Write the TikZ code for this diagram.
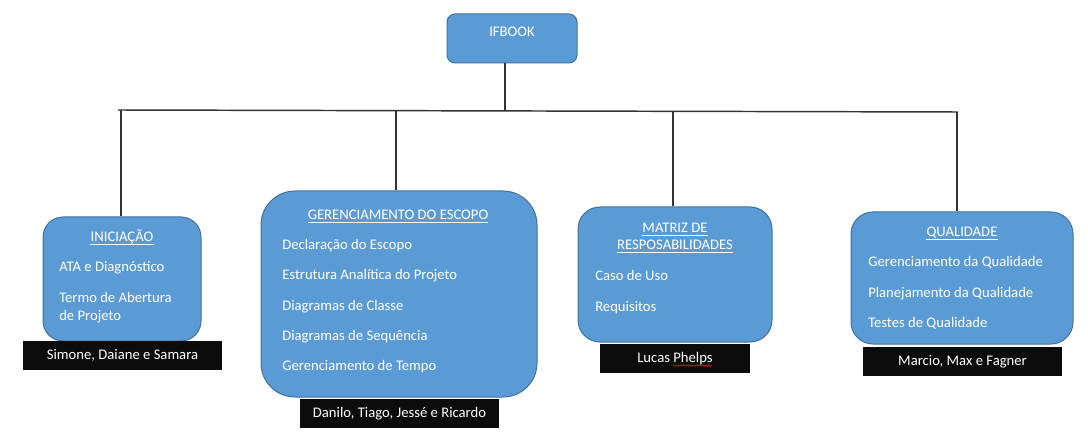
\documentclass[tikz,border=0pt]{standalone}
\usepackage{fontspec}
\setmainfont{Carlito}
\usepackage{tikz}
\usetikzlibrary{calc,decorations.pathmorphing}

\definecolor{boxblue}{RGB}{91,155,213}
\definecolor{boxedge}{RGB}{65,113,156}
\definecolor{teamblack}{RGB}{12,12,12}

\tikzset{
	wire/.style={line width=1.1pt, color=black!80},
	topicbox/.style={draw=boxedge, fill=boxblue, line width=0.75pt, inner sep=0pt},
	teambox/.style={fill=teamblack, text=white, inner sep=0pt, text height=8pt, text depth=2.5pt},
	topictitle/.style={text=white, inner sep=0pt, anchor=base},
	topicitem/.style={text=white, inner sep=0pt, anchor=base west},
	titleline/.style={draw=white, line width=0.6pt}
}

\begin{document}
\begin{tikzpicture}[x=0.75pt, y=-0.75pt, font=\fontsize{11pt}{13.2pt}\selectfont]
		%%%%% START %%%%%
		\useasboundingbox (0, 0) rectangle (1088, 438);
		
		%%%%% boxes
		\node[topicbox, rounded corners=6pt, minimum width=97.5pt, minimum height=36.75pt] (ifbook) at (512, 38.5) {};
		\node[topicbox, rounded corners=15pt, minimum width=118.5pt, minimum height=93pt] (ini) at (122, 279) {};
		\node[topicbox, rounded corners=25.5pt, minimum width=207pt, minimum height=154.5pt] (ger) at (399, 294) {};
		\node[topicbox, rounded corners=16.5pt, minimum width=145.5pt, minimum height=101.25pt] (mat) at (675, 274.5) {};
		\node[topicbox, rounded corners=16.5pt, minimum width=166.5pt, minimum height=99pt] (qual) at (962, 278) {};
		
		%%%%% tree
		\coordinate (hub) at (505, 111);
		\coordinate (bar-w) at (118, 110);
		\coordinate (bar-e) at (958, 112);
		\coordinate (drop-ini) at (121, 110);
		\coordinate (drop-ger) at (396, 111);
		\coordinate (drop-mat) at (673, 111);
		\coordinate (drop-qual) at (957, 112);
		
		\draw[wire] (hub |- ifbook.south) -- (hub);
		\draw[wire] (bar-w) -- (bar-e);
		\draw[wire] (drop-ini) -- (drop-ini |- ini.north);
		\draw[wire] (drop-ger) -- (drop-ger |- ger.north);
		\draw[wire] (drop-mat) -- (drop-mat |- mat.north);
		\draw[wire] (drop-qual) -- (drop-qual |- qual.north);
		
		%%%%% titles
		\node[topictitle] (ifbook-title) at (512, 37) {IFBOOK};
		
		\node[topictitle] (ini-title) at (122, 242) {INICIAÇÃO};
		\draw[titleline] ([yshift=-1.6pt]ini-title.base west) -- ([yshift=-1.6pt]ini-title.base east);
		
		\node[topictitle] (ger-title) at (398, 220) {GERENCIAMENTO DO ESCOPO};
		\draw[titleline] ([yshift=-1.6pt]ger-title.base west) -- ([yshift=-1.6pt]ger-title.base east);
		
		\node[topictitle] (mat-title-a) at (675, 233) {MATRIZ DE};
		\draw[titleline] ([yshift=-1.6pt]mat-title-a.base west) -- ([yshift=-1.6pt]mat-title-a.base east);
		\node[topictitle] (mat-title-b) at (675, 250) {RESPOSABILIDADES};
		\draw[titleline] ([yshift=-1.6pt]mat-title-b.base west) -- ([yshift=-1.6pt]mat-title-b.base east);
		
		\node[topictitle] (qual-title) at (962, 237) {QUALIDADE};
		\draw[titleline] ([yshift=-1.6pt]qual-title.base west) -- ([yshift=-1.6pt]qual-title.base east);
		
		%%%%% items
		\node[topicitem] (ini-1) at (59, 272) {ATA e Diagnóstico};
		\node[topicitem] (ini-2) at (59, 302) {Termo de Abertura};
		\node[topicitem] (ini-3) at (59, 320) {de Projeto};
		
		\node[topicitem] (ger-1) at (282, 250) {Declaração do Escopo};
		\node[topicitem] (ger-2) at (282, 280) {Estrutura Analítica do Projeto};
		\node[topicitem] (ger-3) at (282, 310) {Diagramas de Classe};
		\node[topicitem] (ger-4) at (282, 340) {Diagramas de Sequência};
		\node[topicitem] (ger-5) at (282, 370) {Gerenciamento de Tempo};
		
		\node[topicitem] (mat-1) at (595, 281) {Caso de Uso};
		\node[topicitem] (mat-2) at (595, 311) {Requisitos};
		
		\node[topicitem] (qual-1) at (868, 267) {Gerenciamento da Qualidade};
		\node[topicitem] (qual-2) at (868, 297) {Planejamento da Qualidade};
		\node[topicitem] (qual-3) at (868, 327) {Testes de Qualidade};
		
		%%%%% teams
		\node[teambox, minimum width=149.25pt, minimum height=21.75pt] (ini-team) at (122.5, 355.5) {Simone, Daiane e Samara};
		\node[teambox, minimum width=149.25pt, minimum height=21.75pt] (ger-team) at (399.5, 413.5) {Danilo, Tiago, Jessé e Ricardo};
		\node[teambox, minimum width=112.5pt, minimum height=21.75pt] (mat-team) at (675, 358.5) {Lucas Phelps};
		\node[teambox, minimum width=149.25pt, minimum height=21.75pt] (qual-team) at (962.5, 361.5) {Marcio, Max e Fagner};
		
		\draw[red, line width=0.5pt, decorate, decoration={snake, amplitude=0.5pt, segment length=2.4pt}] (673, 365.5) -- (712, 365.5);
		
		%%%%% END %%%%%
	\end{tikzpicture}
\end{document}
